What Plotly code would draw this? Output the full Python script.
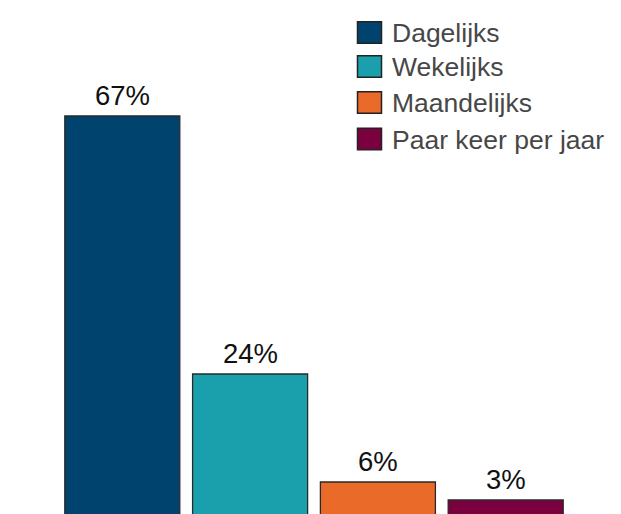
import plotly.graph_objects as go

categories = ["Dagelijks", "Wekelijks", "Maandelijks", "Paar keer per jaar"]
values = [67, 24, 6, 3]
colors = ["#00436F", "#1AA0AD", "#EA6A2A", "#7A0040"]
label_texts = [f"{v}%" for v in values]

W, H = 621, 514
fig = go.Figure()
annotations = []
for i, (cat, val, col, lab) in enumerate(zip(categories, values, colors, label_texts)):
    fig.add_trace(go.Bar(
        x=[i], y=[val], name=cat, width=0.9,
        marker=dict(color=col, line=dict(color="#2a2a2a", width=1.3)),
        showlegend=False, hoverinfo="skip",
    ))
    annotations.append(dict(
        x=i, y=val, xref="x", yref="y", text=lab, showarrow=False,
        xanchor="center", yanchor="bottom", yshift=3,
        font=dict(family="Liberation Sans, Arial", size=27.5, color="#111111"),
    ))

# Legend drawn as shapes + text (large swatches)
shapes = []
leg_x0, leg_sw, leg_sh = 357.5, 24, 21.5
leg_y_centers = [32.5, 66.5, 102.5, 139]
for cat, col, yc in zip(categories, colors, leg_y_centers):
    shapes.append(dict(
        type="rect", xref="paper", yref="paper",
        x0=leg_x0 / W, x1=(leg_x0 + leg_sw) / W,
        y0=1 - (yc + leg_sh / 2) / H, y1=1 - (yc - leg_sh / 2) / H,
        fillcolor=col, line=dict(color="#222222", width=1.5),
    ))
    annotations.append(dict(
        xref="paper", yref="paper", x=389.5 / W, y=1 - (yc + 1) / H,
        xanchor="left", yanchor="middle", text=cat, showarrow=False,
        font=dict(family="Liberation Sans, Arial", size=26.5, color="#474747"),
    ))

fig.update_layout(
    width=W, height=H,
    margin=dict(l=0, r=0, t=0, b=0),
    plot_bgcolor="white", paper_bgcolor="white",
    barmode="overlay",
    xaxis=dict(range=[-122.3 / 127.8, (W - 122.3) / 127.8], visible=False),
    yaxis=dict(range=[(518 - 514) / 6.0, 518 / 6.0], visible=False),
    shapes=shapes, annotations=annotations,
    showlegend=False,
)

fig.write_html(
    "out.html",
    config={"displayModeBar": False, "staticPlot": True},
    post_script="document.body.style.margin='0';document.body.style.overflow='hidden';",
)
